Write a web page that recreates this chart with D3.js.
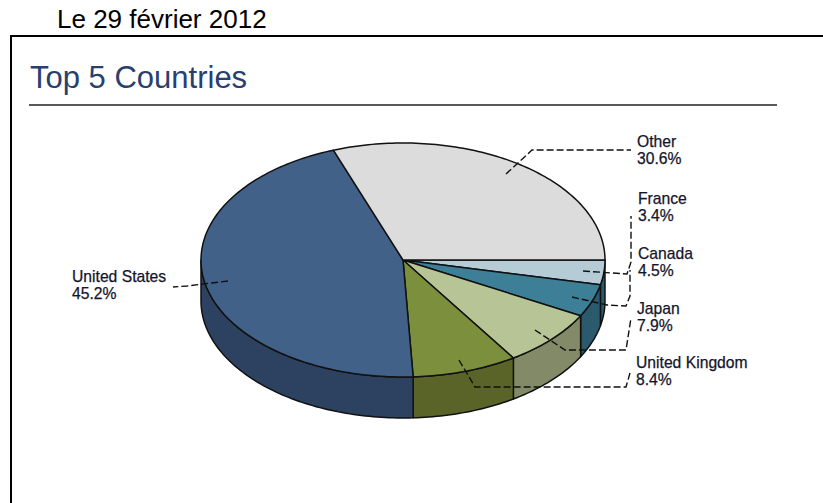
<!DOCTYPE html>
<html>
<head>
<meta charset="utf-8">
<style>
html,body{margin:0;padding:0;background:#fff;}
svg{display:block;}
text{font-family:"Liberation Sans",Arial,sans-serif;}
</style>
<script src="https://cdn.jsdelivr.net/npm/d3@7"></script>
</head>
<body>
<div id="chart"></div>
<script>
// Share of the total by country, in drawing order clockwise from three o'clock
const countries = ["France", "Canada", "Japan", "United Kingdom", "United States", "Other"];
const shares = [3.4, 4.5, 7.9, 8.4, 45.2, 30.6];
const topColors = ["#b5cbd6", "#3c7f97", "#b7c596", "#7c8f3c", "#426189", "#dcdcdc"];
const wallColors = ["#2a5a6c", "#2a5a6c", "#828a68", "#5a6428", "#2c4260", "#8f8f8f"];

// Leader polylines in page pixels, one per country
const leaders = [
  [[583,271],[627,274],[631,262],[631,216]],
  [[572,297],[607,305],[626,306],[630,296],[630,270]],
  [[535,330],[565,350],[626,350],[631,318]],
  [[459,360],[475,387],[626,387],[630,373]],
  [[228,281],[187,286],[173,287]],
  [[506,174],[532,150],[631,150]]
];
// First-line label anchor for each country: [x, baseline y]
const labelAnchors = [[638,204],[638,259],[637,314],[636,368],[72,282],[637,147]];

const width = 823, height = 503;
const centerX = 403, centerY = 260, radiusX = 202, radiusY = 117, depth = 41;

const svg = d3.select("#chart").append("svg")
  .attr("width", width).attr("height", height);

// Page heading above the frame
svg.append("text").attr("x", 57).attr("y", 28)
  .attr("font-size", 26).attr("fill", "#000").text("Le 29 f\u00e9vrier 2012");

// Frame, open along the bottom and right of the page
svg.append("path").attr("d", "M11,503V36H823")
  .attr("fill", "none").attr("stroke", "#000").attr("stroke-width", 2);

svg.append("text").attr("x", 30).attr("y", 88)
  .attr("font-size", 31).attr("fill", "#28406f").text("Top 5 Countries");
svg.append("line").attr("x1", 29).attr("x2", 777).attr("y1", 105).attr("y2", 105)
  .attr("stroke", "#222").attr("stroke-width", 1.5);

// Scales mapping the unit circle onto the tilted ellipse
const x = d3.scaleLinear().domain([-1, 1]).range([centerX - radiusX, centerX + radiusX]);
const y = d3.scaleLinear().domain([-1, 1]).range([centerY - radiusY, centerY + radiusY]);

// Angles measured clockwise from three o'clock on screen
const slices = d3.pie().sort(null).startAngle(0).endAngle(2 * Math.PI)(shares);

const ringPoints = (a0, a1) => {
  const n = Math.max(2, Math.ceil((a1 - a0) / 0.02));
  return d3.range(n + 1).map(i => {
    const a = a0 + (a1 - a0) * i / n;
    return [x(Math.cos(a)), y(Math.sin(a))];
  });
};
const outline = d3.line();

// Outer wall: only the part of each slice facing the viewer
const walls = svg.append("g").attr("stroke", "#111").attr("stroke-width", 1.5).attr("stroke-linejoin", "round");
slices.forEach((s, i) => {
  const a0 = s.startAngle, a1 = Math.min(s.endAngle, Math.PI);
  if (a0 >= Math.PI) return;
  const rim = ringPoints(a0, a1);
  const lower = rim.map(p => [p[0], p[1] + depth]).reverse();
  walls.append("path").attr("d", outline(rim.concat(lower)) + "Z").attr("fill", wallColors[i]);
});

// Top face
const faces = svg.append("g").attr("stroke", "#111").attr("stroke-width", 1.5).attr("stroke-linejoin", "round");
slices.forEach((s, i) => {
  const pts = [[x(0), y(0)]].concat(ringPoints(s.startAngle, s.endAngle));
  faces.append("path").attr("d", outline(pts) + "Z").attr("fill", topColors[i]);
});

// Leader lines
svg.append("g").selectAll("path").data(leaders).join("path")
  .attr("d", d => outline(d))
  .attr("fill", "none").attr("stroke", "#111").attr("stroke-width", 1.4)
  .attr("stroke-dasharray", "7,3");

// Two-line labels: name and share
const labels = svg.append("g").attr("font-size", 15.7).attr("fill", "#14142a")
  .attr("stroke", "#14142a").attr("stroke-width", 0.25);
countries.forEach((name, i) => {
  const [lx, ly] = labelAnchors[i];
  labels.append("text").attr("x", lx).attr("y", ly).text(name);
  labels.append("text").attr("x", lx).attr("y", ly + 17).text(shares[i].toFixed(1) + "%");
});
</script>
</body>
</html>
